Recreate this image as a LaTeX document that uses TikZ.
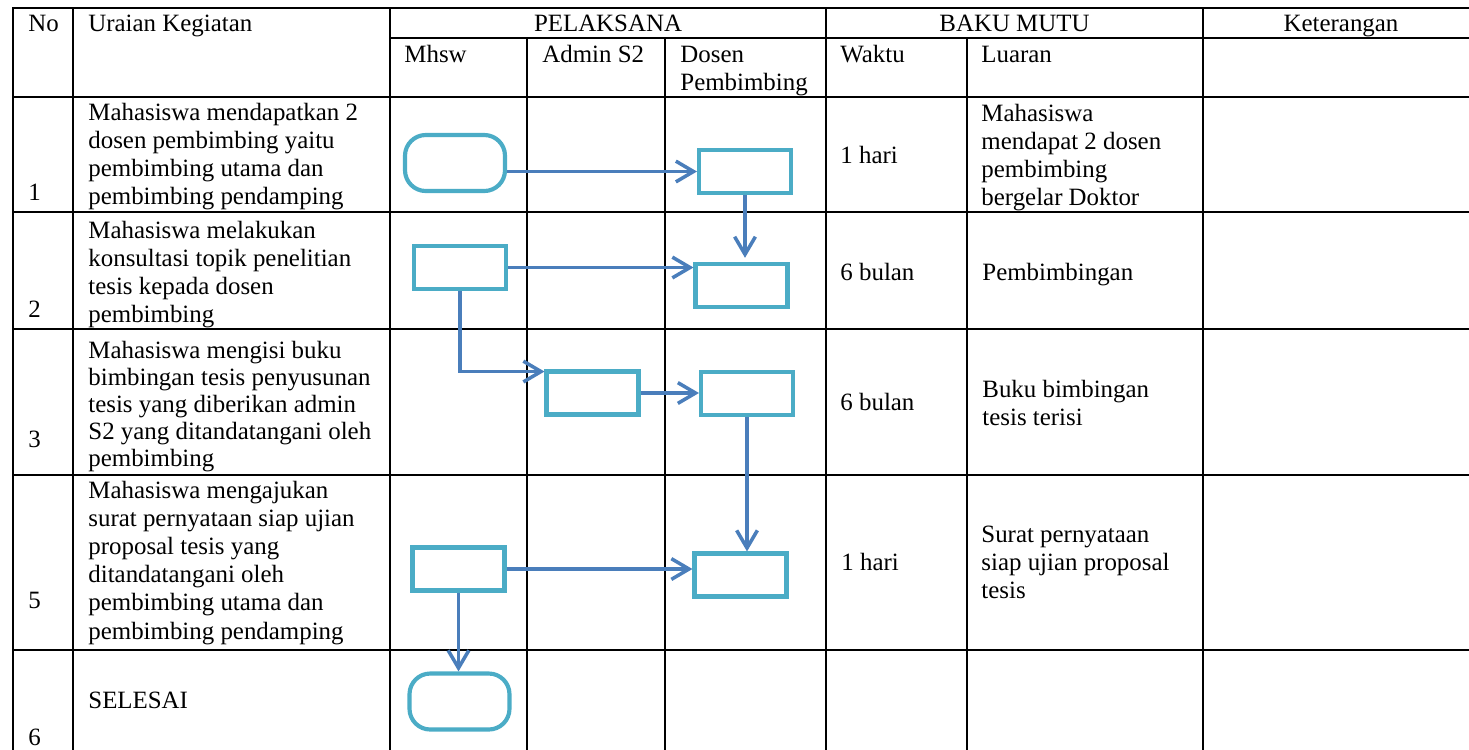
\documentclass[tikz,border=0pt]{standalone}
\usepackage{fontspec}
\setmainfont{Liberation Serif}
\usetikzlibrary{arrows.meta}
\definecolor{boxcol}{RGB}{75,172,198}
\definecolor{flowcol}{RGB}{74,126,187}

\begin{document}
\begin{tikzpicture}[x=0.482pt,y=-0.482pt,
    grid/.style={line width=1.1pt,line cap=rect},
    thingrid/.style={line width=0.5pt},
    cell/.style={anchor=north west,inner sep=0pt,align=left,yshift=9.52pt,
      font=\fontsize{12}{13.6}\selectfont,execute at begin node=\strut},
    lines/.style={cell,yshift=-1.5pt},
    head/.style={anchor=base,inner sep=0pt,font=\fontsize{12}{13.6}\selectfont},
    proc/.style={draw=boxcol,line width=2pt,fill=white,inner sep=0pt,
      minimum width=44.3pt,minimum height=20.7pt},
    term/.style={proc,rounded corners=10pt,minimum width=48.2pt,minimum height=27pt},
    flow/.style={draw=flowcol,line width=1.7pt,-{Straight Barb[length=8.5pt,width=10pt]}}]
    \useasboundingbox (0,0) rectangle (1469,749);
    \clip (0,0) rectangle (1469,749);

    % table lines
    \draw[grid] (13,8) -- (1480,8);
    \draw[grid] (390,38) -- (1480,38);
    \foreach \y in {97,212,329,475,650}
      \draw[grid] (13,\y) -- (1480,\y);
    \foreach \x in {13,73,390,826,1203}
      \draw[grid] (\x,8) -- (\x,760);
    \foreach \x in {665,967}
      \draw[grid] (\x,38) -- (\x,760);
    \draw[thingrid] (527,38) -- (527,760);

    % header
    \node[cell] (no) at (28,31) {No};
    \node[cell] (uraian) at (88,31) {Uraian Kegiatan};
    \node[head] (pelaksana) at (608,31) {PELAKSANA};
    \node[head] (baku) at (1014.5,31) {BAKU MUTU};
    \node[head] (ket) at (1341,31) {Keterangan};
    \node[cell] (mhsw) at (404,62) {Mhsw};
    \node[cell] (admin) at (542,62) {Admin S2};
    \node[lines] (dosen) at (680,62) {Dosen\\Pembimbing};
    \node[cell] (waktu) at (840,62) {Waktu};
    \node[cell] (luaran) at (981,62) {Luaran};

    % rows
    \node[cell] (n1) at (28,200) {1};
    \node[lines] (u1) at (88,119) {Mahasiswa mendapatkan 2\\dosen pembimbing yaitu\\pembimbing utama dan\\pembimbing pendamping};
    \node[cell] (w1) at (840,163) {1 hari};
    \node[lines] (l1) at (981,120) {Mahasiswa\\mendapat 2 dosen\\pembimbing\\bergelar Doktor};

    \node[cell] (n2) at (28,317) {2};
    \node[lines] (u2) at (88,237) {Mahasiswa melakukan\\konsultasi topik penelitian\\tesis kepada dosen\\pembimbing};
    \node[cell] (w2) at (840,280) {6 bulan};
    \node[cell] (l2) at (982,280) {Pembimbingan};

    \node[cell] (n3) at (28,447) {3};
    \node[lines,font=\fontsize{12}{13}\selectfont,yshift=-0.4pt] (u3) at (88,357) {Mahasiswa mengisi buku\\bimbingan tesis penyusunan\\tesis yang diberikan admin\\S2 yang ditandatangani oleh\\pembimbing};
    \node[cell] (w3) at (840,410) {6 bulan};
    \node[lines] (l3) at (982,396) {Buku bimbingan\\tesis terisi};

    \node[cell] (n5) at (28,608) {5};
    \node[lines] (u5) at (88,497) {Mahasiswa mengajukan\\surat pernyataan siap ujian\\proposal tesis yang\\ditandatangani oleh\\pembimbing utama dan\\pembimbing pendamping};
    \node[cell] (w5) at (841,570) {1 hari};
    \node[lines] (l5) at (981,542) {Surat pernyataan\\siap ujian proposal\\tesis};

    \node[cell] (n6) at (28,745) {6};
    \node[cell] (u6) at (88,708) {SELESAI};

    % flow shapes
    \node[term] (start) at (455,163) {};
    \node[proc] (d1) at (745,171.5) {};
    \node[proc] (m2) at (460,267.5) {};
    \node[proc] (d2) at (741.5,285.5) {};
    \node[proc] (a3) at (592.5,393) {};
    \node[proc] (d3) at (747,393.5) {};
    \node[proc] (m5) at (458.5,569) {};
    \node[proc] (d5) at (740.5,575) {};
    \node[term] (fin) at (459.5,701.5) {};

    \draw[flow] (start.east |- d1.west) -- (d1.west);
    \draw[flow,shorten >=2pt] (d1.south) -- (d1.south |- d2.north);
    \draw[flow] (m2.east) -- (m2.east -| d2.west);
    \draw[flow] (m2.south) |- ([yshift=-1pt]a3.north west);
    \draw[flow] (a3.east) -- (a3.east -| d3.west);
    \draw[flow] (d3.south) -- (d3.south |- d5.north);
    \draw[flow] (m5.east) -- (m5.east -| d5.west);
    \draw[flow] (m5.south) -- (m5.south |- fin.north);

  \end{tikzpicture}
\end{document}
